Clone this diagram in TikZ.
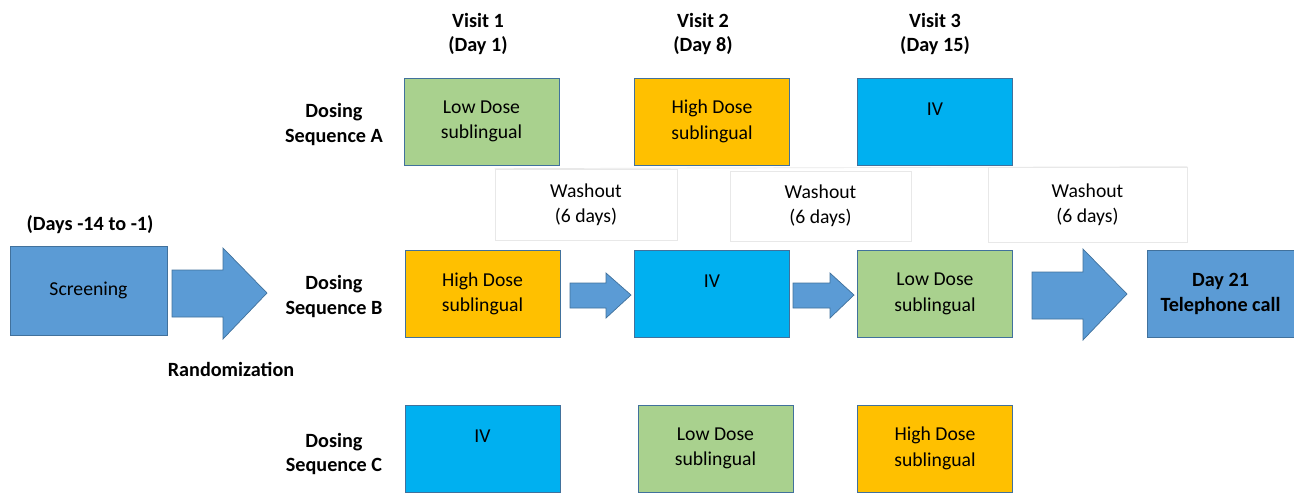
\documentclass[tikz,border=0pt]{standalone}
\usepackage{fontspec}
\setmainfont{Carlito}
\usepackage{xcolor}
\usepackage{tikz}
\definecolor{edgeblue}{HTML}{41719C}
\definecolor{scrblue}{HTML}{5B9BD5}
\definecolor{lowgreen}{HTML}{A9D18E}
\definecolor{highorange}{HTML}{FFC000}
\definecolor{ivcyan}{HTML}{00B0F0}
\tikzset{
  dosebox/.style={rectangle, draw=edgeblue, line width=0.5pt, align=center,
                  font=\fontsize{11.2}{14.4}\selectfont, inner sep=0pt,
                  minimum width=3.1cm, minimum height=1.74cm},
  lowb/.style={dosebox, fill=lowgreen},
  highb/.style={dosebox, fill=highorange},
  ivb/.style={dosebox, fill=ivcyan},
  scrb/.style={dosebox, fill=scrblue},
  hdr/.style={align=center, font=\bfseries\fontsize{11.5}{14}\selectfont},
  washb/.style={rectangle, draw=black!9, line width=0.4pt, align=center,
                font=\fontsize{11.2}{14.4}\selectfont, inner sep=0pt},
  blkarrow/.style={fill=scrblue, draw=edgeblue, line width=0.4pt, line join=miter},
}

\begin{document}
\begin{tikzpicture}
  \useasboundingbox (0,0) rectangle (25.88,-9.86);
  % visit headers
  \node[hdr] (v1) at (9.56,-0.68)  {Visit 1\\(Day 1)};
  \node[hdr] (v2) at (14.06,-0.68) {Visit 2\\(Day 8)};
  \node[hdr] (v3) at (18.70,-0.68) {Visit 3\\(Day 15)};
  % sequence labels
  \node[hdr] (sa) at (6.68,-2.49) {Dosing\\Sequence A};
  \node[hdr] (sb) at (6.68,-5.93) {Dosing\\Sequence B};
  \node[hdr] (sc) at (6.68,-9.08) {Dosing\\Sequence C};
  % washout periods
  \node[washb, minimum width=3.64cm, minimum height=1.42cm] (w1) at (11.72,-4.09) {Washout\\(6 days)};
  \node[washb, minimum width=3.62cm, minimum height=1.40cm] (w2) at (16.41,-4.12) {Washout\\(6 days)};
  \node[washb, minimum width=3.98cm, minimum height=1.50cm] (w3) at (21.75,-4.09) {Washout\\(6 days)};
  \draw[black!9, line width=0.4pt] (w1.north west) -- (w3.north east);
  % sequence A
  \node[lowb]  (a1) at (9.63,-2.43)  {Low Dose\\sublingual};
  \node[highb] (a2) at (14.24,-2.43) {High Dose\\sublingual};
  \node[ivb]   (a3) at (18.70,-2.43) {IV\\\mbox{}};
  % sequence B
  \node[highb] (b1) at (9.65,-5.88)  {High Dose\\sublingual};
  \node[ivb]   (b2) at (14.24,-5.88) {IV\\\mbox{}};
  \node[lowb]  (b3) at (18.70,-5.88) {Low Dose\\sublingual};
  % sequence C
  \node[ivb]   (c1) at (9.65,-8.97)  {IV\\\mbox{}};
  \node[lowb]  (c2) at (14.31,-8.97) {Low Dose\\sublingual};
  \node[highb] (c3) at (18.70,-8.97) {High Dose\\sublingual};
  % screening and follow-up
  \node[hdr] (days) at (1.80,-4.50) {(Days -14 to -1)};
  \node[scrb, minimum width=3.14cm, minimum height=1.78cm] (scr) at (1.77,-5.81) {Screening};
  \node[hdr] (rand) at (4.62,-7.38) {Randomization};
  \node[scrb, minimum width=2.94cm, font=\bfseries\fontsize{11.5}{14}\selectfont] (tel) at (24.41,-5.88) {Day 21\\Telephone call};
  % block arrows
  \draw[blkarrow] (3.44,-5.40) -- (4.46,-5.40) -- (4.46,-4.96) -- (5.34,-5.86)
    -- (4.46,-6.78) -- (4.46,-6.34) -- (3.44,-6.34) -- cycle;
  \draw[blkarrow] (11.40,-5.66) -- (12.12,-5.66) -- (12.12,-5.46) -- (12.62,-5.90)
    -- (12.12,-6.36) -- (12.12,-6.16) -- (11.40,-6.16) -- cycle;
  \draw[blkarrow] (15.86,-5.66) -- (16.60,-5.66) -- (16.60,-5.46) -- (17.08,-5.90)
    -- (16.60,-6.36) -- (16.60,-6.16) -- (15.86,-6.16) -- cycle;
  \draw[blkarrow] (20.64,-5.44) -- (21.66,-5.44) -- (21.66,-4.98) -- (22.54,-5.88)
    -- (21.66,-6.80) -- (21.66,-6.38) -- (20.64,-6.38) -- cycle;
\end{tikzpicture}
\end{document}
